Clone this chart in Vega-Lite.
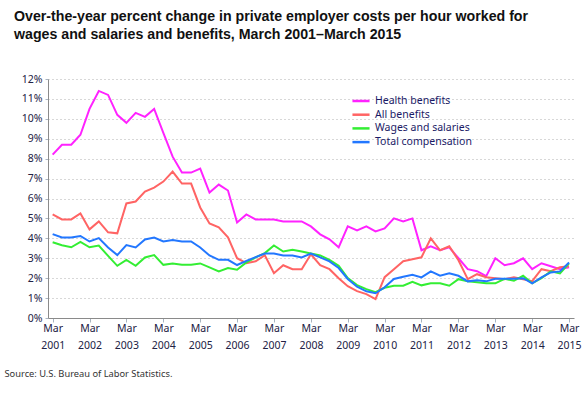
{
  "$schema": "https://vega.github.io/schema/vega-lite/v6.json",
  "width": 526,
  "height": 239,
  "autosize": {"type": "none"},
  "padding": {"left": 48, "top": 79, "right": 10, "bottom": 77},
  "background": "white",
  "title": {
    "text": ["Over-the-year percent change in private employer costs per hour worked for", "wages and salaries and benefits, March 2001\u2013March 2015"],
    "anchor": "start",
    "frame": "group",
    "dx": -34,
    "offset": 32,
    "font": "Liberation Sans",
    "fontSize": 14.2,
    "fontWeight": "bold",
    "color": "#111111",
    "lineHeight": 18
  },
  "data": {"values": [
    {"date":"2001-03-01","series":"Health benefits","value":8.2},
    {"date":"2001-06-01","series":"Health benefits","value":8.7},
    {"date":"2001-09-01","series":"Health benefits","value":8.7},
    {"date":"2001-12-01","series":"Health benefits","value":9.2},
    {"date":"2002-03-01","series":"Health benefits","value":10.5},
    {"date":"2002-06-01","series":"Health benefits","value":11.4},
    {"date":"2002-09-01","series":"Health benefits","value":11.2},
    {"date":"2002-12-01","series":"Health benefits","value":10.2},
    {"date":"2003-03-01","series":"Health benefits","value":9.8},
    {"date":"2003-06-01","series":"Health benefits","value":10.3},
    {"date":"2003-09-01","series":"Health benefits","value":10.1},
    {"date":"2003-12-01","series":"Health benefits","value":10.5},
    {"date":"2004-03-01","series":"Health benefits","value":9.3},
    {"date":"2004-06-01","series":"Health benefits","value":8.1},
    {"date":"2004-09-01","series":"Health benefits","value":7.3},
    {"date":"2004-12-01","series":"Health benefits","value":7.3},
    {"date":"2005-03-01","series":"Health benefits","value":7.5},
    {"date":"2005-06-01","series":"Health benefits","value":6.3},
    {"date":"2005-09-01","series":"Health benefits","value":6.7},
    {"date":"2005-12-01","series":"Health benefits","value":6.4},
    {"date":"2006-03-01","series":"Health benefits","value":4.8},
    {"date":"2006-06-01","series":"Health benefits","value":5.2},
    {"date":"2006-09-01","series":"Health benefits","value":4.95},
    {"date":"2006-12-01","series":"Health benefits","value":4.95},
    {"date":"2007-03-01","series":"Health benefits","value":4.95},
    {"date":"2007-06-01","series":"Health benefits","value":4.85},
    {"date":"2007-09-01","series":"Health benefits","value":4.85},
    {"date":"2007-12-01","series":"Health benefits","value":4.85},
    {"date":"2008-03-01","series":"Health benefits","value":4.6},
    {"date":"2008-06-01","series":"Health benefits","value":4.2},
    {"date":"2008-09-01","series":"Health benefits","value":3.95},
    {"date":"2008-12-01","series":"Health benefits","value":3.55},
    {"date":"2009-03-01","series":"Health benefits","value":4.6},
    {"date":"2009-06-01","series":"Health benefits","value":4.4},
    {"date":"2009-09-01","series":"Health benefits","value":4.6},
    {"date":"2009-12-01","series":"Health benefits","value":4.35},
    {"date":"2010-03-01","series":"Health benefits","value":4.5},
    {"date":"2010-06-01","series":"Health benefits","value":5.0},
    {"date":"2010-09-01","series":"Health benefits","value":4.85},
    {"date":"2010-12-01","series":"Health benefits","value":5.0},
    {"date":"2011-03-01","series":"Health benefits","value":3.4},
    {"date":"2011-06-01","series":"Health benefits","value":3.6},
    {"date":"2011-09-01","series":"Health benefits","value":3.4},
    {"date":"2011-12-01","series":"Health benefits","value":3.55},
    {"date":"2012-03-01","series":"Health benefits","value":3.0},
    {"date":"2012-06-01","series":"Health benefits","value":2.45},
    {"date":"2012-09-01","series":"Health benefits","value":2.35},
    {"date":"2012-12-01","series":"Health benefits","value":2.1},
    {"date":"2013-03-01","series":"Health benefits","value":3.0},
    {"date":"2013-06-01","series":"Health benefits","value":2.65},
    {"date":"2013-09-01","series":"Health benefits","value":2.75},
    {"date":"2013-12-01","series":"Health benefits","value":3.0},
    {"date":"2014-03-01","series":"Health benefits","value":2.45},
    {"date":"2014-06-01","series":"Health benefits","value":2.75},
    {"date":"2014-09-01","series":"Health benefits","value":2.6},
    {"date":"2014-12-01","series":"Health benefits","value":2.45},
    {"date":"2015-03-01","series":"Health benefits","value":2.55},
    {"date":"2001-03-01","series":"All benefits","value":5.2},
    {"date":"2001-06-01","series":"All benefits","value":4.95},
    {"date":"2001-09-01","series":"All benefits","value":4.95},
    {"date":"2001-12-01","series":"All benefits","value":5.25},
    {"date":"2002-03-01","series":"All benefits","value":4.45},
    {"date":"2002-06-01","series":"All benefits","value":4.85},
    {"date":"2002-09-01","series":"All benefits","value":4.3},
    {"date":"2002-12-01","series":"All benefits","value":4.25},
    {"date":"2003-03-01","series":"All benefits","value":5.75},
    {"date":"2003-06-01","series":"All benefits","value":5.85},
    {"date":"2003-09-01","series":"All benefits","value":6.35},
    {"date":"2003-12-01","series":"All benefits","value":6.55},
    {"date":"2004-03-01","series":"All benefits","value":6.85},
    {"date":"2004-06-01","series":"All benefits","value":7.35},
    {"date":"2004-09-01","series":"All benefits","value":6.75},
    {"date":"2004-12-01","series":"All benefits","value":6.75},
    {"date":"2005-03-01","series":"All benefits","value":5.55},
    {"date":"2005-06-01","series":"All benefits","value":4.75},
    {"date":"2005-09-01","series":"All benefits","value":4.55},
    {"date":"2005-12-01","series":"All benefits","value":4.05},
    {"date":"2006-03-01","series":"All benefits","value":3.0},
    {"date":"2006-06-01","series":"All benefits","value":2.75},
    {"date":"2006-09-01","series":"All benefits","value":2.85},
    {"date":"2006-12-01","series":"All benefits","value":3.15},
    {"date":"2007-03-01","series":"All benefits","value":2.25},
    {"date":"2007-06-01","series":"All benefits","value":2.65},
    {"date":"2007-09-01","series":"All benefits","value":2.45},
    {"date":"2007-12-01","series":"All benefits","value":2.45},
    {"date":"2008-03-01","series":"All benefits","value":3.2},
    {"date":"2008-06-01","series":"All benefits","value":2.65},
    {"date":"2008-09-01","series":"All benefits","value":2.45},
    {"date":"2008-12-01","series":"All benefits","value":2.0},
    {"date":"2009-03-01","series":"All benefits","value":1.6},
    {"date":"2009-06-01","series":"All benefits","value":1.35},
    {"date":"2009-09-01","series":"All benefits","value":1.2},
    {"date":"2009-12-01","series":"All benefits","value":0.95},
    {"date":"2010-03-01","series":"All benefits","value":2.05},
    {"date":"2010-06-01","series":"All benefits","value":2.45},
    {"date":"2010-09-01","series":"All benefits","value":2.85},
    {"date":"2010-12-01","series":"All benefits","value":2.95},
    {"date":"2011-03-01","series":"All benefits","value":3.05},
    {"date":"2011-06-01","series":"All benefits","value":4.0},
    {"date":"2011-09-01","series":"All benefits","value":3.4},
    {"date":"2011-12-01","series":"All benefits","value":3.6},
    {"date":"2012-03-01","series":"All benefits","value":2.9},
    {"date":"2012-06-01","series":"All benefits","value":1.95},
    {"date":"2012-09-01","series":"All benefits","value":2.2},
    {"date":"2012-12-01","series":"All benefits","value":2.05},
    {"date":"2013-03-01","series":"All benefits","value":2.0},
    {"date":"2013-06-01","series":"All benefits","value":1.95},
    {"date":"2013-09-01","series":"All benefits","value":2.05},
    {"date":"2013-12-01","series":"All benefits","value":1.95},
    {"date":"2014-03-01","series":"All benefits","value":1.85},
    {"date":"2014-06-01","series":"All benefits","value":2.45},
    {"date":"2014-09-01","series":"All benefits","value":2.35},
    {"date":"2014-12-01","series":"All benefits","value":2.55},
    {"date":"2015-03-01","series":"All benefits","value":2.6},
    {"date":"2001-03-01","series":"Wages and salaries","value":3.8},
    {"date":"2001-06-01","series":"Wages and salaries","value":3.65},
    {"date":"2001-09-01","series":"Wages and salaries","value":3.55},
    {"date":"2001-12-01","series":"Wages and salaries","value":3.82},
    {"date":"2002-03-01","series":"Wages and salaries","value":3.55},
    {"date":"2002-06-01","series":"Wages and salaries","value":3.64},
    {"date":"2002-09-01","series":"Wages and salaries","value":3.12},
    {"date":"2002-12-01","series":"Wages and salaries","value":2.62},
    {"date":"2003-03-01","series":"Wages and salaries","value":2.92},
    {"date":"2003-06-01","series":"Wages and salaries","value":2.62},
    {"date":"2003-09-01","series":"Wages and salaries","value":3.04},
    {"date":"2003-12-01","series":"Wages and salaries","value":3.16},
    {"date":"2004-03-01","series":"Wages and salaries","value":2.67},
    {"date":"2004-06-01","series":"Wages and salaries","value":2.74},
    {"date":"2004-09-01","series":"Wages and salaries","value":2.67},
    {"date":"2004-12-01","series":"Wages and salaries","value":2.67},
    {"date":"2005-03-01","series":"Wages and salaries","value":2.74},
    {"date":"2005-06-01","series":"Wages and salaries","value":2.54},
    {"date":"2005-09-01","series":"Wages and salaries","value":2.34},
    {"date":"2005-12-01","series":"Wages and salaries","value":2.51},
    {"date":"2006-03-01","series":"Wages and salaries","value":2.42},
    {"date":"2006-06-01","series":"Wages and salaries","value":2.79},
    {"date":"2006-09-01","series":"Wages and salaries","value":3.04},
    {"date":"2006-12-01","series":"Wages and salaries","value":3.26},
    {"date":"2007-03-01","series":"Wages and salaries","value":3.64},
    {"date":"2007-06-01","series":"Wages and salaries","value":3.34},
    {"date":"2007-09-01","series":"Wages and salaries","value":3.42},
    {"date":"2007-12-01","series":"Wages and salaries","value":3.34},
    {"date":"2008-03-01","series":"Wages and salaries","value":3.24},
    {"date":"2008-06-01","series":"Wages and salaries","value":3.14},
    {"date":"2008-09-01","series":"Wages and salaries","value":2.92},
    {"date":"2008-12-01","series":"Wages and salaries","value":2.62},
    {"date":"2009-03-01","series":"Wages and salaries","value":2.0},
    {"date":"2009-06-01","series":"Wages and salaries","value":1.65},
    {"date":"2009-09-01","series":"Wages and salaries","value":1.45},
    {"date":"2009-12-01","series":"Wages and salaries","value":1.3},
    {"date":"2010-03-01","series":"Wages and salaries","value":1.52},
    {"date":"2010-06-01","series":"Wages and salaries","value":1.62},
    {"date":"2010-09-01","series":"Wages and salaries","value":1.62},
    {"date":"2010-12-01","series":"Wages and salaries","value":1.82},
    {"date":"2011-03-01","series":"Wages and salaries","value":1.64},
    {"date":"2011-06-01","series":"Wages and salaries","value":1.74},
    {"date":"2011-09-01","series":"Wages and salaries","value":1.74},
    {"date":"2011-12-01","series":"Wages and salaries","value":1.62},
    {"date":"2012-03-01","series":"Wages and salaries","value":1.95},
    {"date":"2012-06-01","series":"Wages and salaries","value":1.84},
    {"date":"2012-09-01","series":"Wages and salaries","value":1.79},
    {"date":"2012-12-01","series":"Wages and salaries","value":1.74},
    {"date":"2013-03-01","series":"Wages and salaries","value":1.74},
    {"date":"2013-06-01","series":"Wages and salaries","value":1.97},
    {"date":"2013-09-01","series":"Wages and salaries","value":1.87},
    {"date":"2013-12-01","series":"Wages and salaries","value":2.12},
    {"date":"2014-03-01","series":"Wages and salaries","value":1.74},
    {"date":"2014-06-01","series":"Wages and salaries","value":2.0},
    {"date":"2014-09-01","series":"Wages and salaries","value":2.34},
    {"date":"2014-12-01","series":"Wages and salaries","value":2.24},
    {"date":"2015-03-01","series":"Wages and salaries","value":2.74},
    {"date":"2001-03-01","series":"Total compensation","value":4.21},
    {"date":"2001-06-01","series":"Total compensation","value":4.04},
    {"date":"2001-09-01","series":"Total compensation","value":4.04},
    {"date":"2001-12-01","series":"Total compensation","value":4.12},
    {"date":"2002-03-01","series":"Total compensation","value":3.84},
    {"date":"2002-06-01","series":"Total compensation","value":4.01},
    {"date":"2002-09-01","series":"Total compensation","value":3.54},
    {"date":"2002-12-01","series":"Total compensation","value":3.16},
    {"date":"2003-03-01","series":"Total compensation","value":3.66},
    {"date":"2003-06-01","series":"Total compensation","value":3.54},
    {"date":"2003-09-01","series":"Total compensation","value":3.94},
    {"date":"2003-12-01","series":"Total compensation","value":4.04},
    {"date":"2004-03-01","series":"Total compensation","value":3.84},
    {"date":"2004-06-01","series":"Total compensation","value":3.92},
    {"date":"2004-09-01","series":"Total compensation","value":3.84},
    {"date":"2004-12-01","series":"Total compensation","value":3.84},
    {"date":"2005-03-01","series":"Total compensation","value":3.54},
    {"date":"2005-06-01","series":"Total compensation","value":3.14},
    {"date":"2005-09-01","series":"Total compensation","value":2.92},
    {"date":"2005-12-01","series":"Total compensation","value":2.92},
    {"date":"2006-03-01","series":"Total compensation","value":2.66},
    {"date":"2006-06-01","series":"Total compensation","value":2.87},
    {"date":"2006-09-01","series":"Total compensation","value":3.06},
    {"date":"2006-12-01","series":"Total compensation","value":3.24},
    {"date":"2007-03-01","series":"Total compensation","value":3.24},
    {"date":"2007-06-01","series":"Total compensation","value":3.14},
    {"date":"2007-09-01","series":"Total compensation","value":3.14},
    {"date":"2007-12-01","series":"Total compensation","value":3.04},
    {"date":"2008-03-01","series":"Total compensation","value":3.24},
    {"date":"2008-06-01","series":"Total compensation","value":3.04},
    {"date":"2008-09-01","series":"Total compensation","value":2.84},
    {"date":"2008-12-01","series":"Total compensation","value":2.51},
    {"date":"2009-03-01","series":"Total compensation","value":1.96},
    {"date":"2009-06-01","series":"Total compensation","value":1.57},
    {"date":"2009-09-01","series":"Total compensation","value":1.34},
    {"date":"2009-12-01","series":"Total compensation","value":1.24},
    {"date":"2010-03-01","series":"Total compensation","value":1.54},
    {"date":"2010-06-01","series":"Total compensation","value":1.96},
    {"date":"2010-09-01","series":"Total compensation","value":2.07},
    {"date":"2010-12-01","series":"Total compensation","value":2.17},
    {"date":"2011-03-01","series":"Total compensation","value":2.04},
    {"date":"2011-06-01","series":"Total compensation","value":2.34},
    {"date":"2011-09-01","series":"Total compensation","value":2.12},
    {"date":"2011-12-01","series":"Total compensation","value":2.24},
    {"date":"2012-03-01","series":"Total compensation","value":2.12},
    {"date":"2012-06-01","series":"Total compensation","value":1.84},
    {"date":"2012-09-01","series":"Total compensation","value":1.9},
    {"date":"2012-12-01","series":"Total compensation","value":1.84},
    {"date":"2013-03-01","series":"Total compensation","value":1.97},
    {"date":"2013-06-01","series":"Total compensation","value":1.97},
    {"date":"2013-09-01","series":"Total compensation","value":1.97},
    {"date":"2013-12-01","series":"Total compensation","value":2.0},
    {"date":"2014-03-01","series":"Total compensation","value":1.74},
    {"date":"2014-06-01","series":"Total compensation","value":2.04},
    {"date":"2014-09-01","series":"Total compensation","value":2.29},
    {"date":"2014-12-01","series":"Total compensation","value":2.34},
    {"date":"2015-03-01","series":"Total compensation","value":2.79}
  ]},
  "mark": {"type": "line", "strokeWidth": 2, "interpolate": "linear"},
  "encoding": {
    "x": {
      "field": "date",
      "type": "temporal",
      "scale": {"type": "utc", "domain": [{"year": 2001, "month": 1, "date": 14, "utc": true}, {"year": 2015, "month": 4, "date": 19, "utc": true}]},
      "axis": {
        "values": [
          {"year": 2001, "month": 3, "date": 1, "utc": true},
          {"year": 2002, "month": 3, "date": 1, "utc": true},
          {"year": 2003, "month": 3, "date": 1, "utc": true},
          {"year": 2004, "month": 3, "date": 1, "utc": true},
          {"year": 2005, "month": 3, "date": 1, "utc": true},
          {"year": 2006, "month": 3, "date": 1, "utc": true},
          {"year": 2007, "month": 3, "date": 1, "utc": true},
          {"year": 2008, "month": 3, "date": 1, "utc": true},
          {"year": 2009, "month": 3, "date": 1, "utc": true},
          {"year": 2010, "month": 3, "date": 1, "utc": true},
          {"year": 2011, "month": 3, "date": 1, "utc": true},
          {"year": 2012, "month": 3, "date": 1, "utc": true},
          {"year": 2013, "month": 3, "date": 1, "utc": true},
          {"year": 2014, "month": 3, "date": 1, "utc": true},
          {"year": 2015, "month": 3, "date": 1, "utc": true}
        ],
        "labelExpr": "['Mar', utcFormat(datum.value, '%Y')]",
        "labelLineHeight": 17,
        "labelFont": "Noto Sans",
        "labelFontSize": 10.5,
        "labelColor": "#222244",
        "labelPadding": 1,
        "labelOverlap": false,
        "labelFlush": false,
        "tickSize": 4,
        "tickColor": "#a8b4c0",
        "domainColor": "#8a8a8a",
        "grid": false,
        "title": "Source: U.S. Bureau of Labor Statistics.",
        "titleFont": "Noto Sans",
        "titleFontSize": 9.3,
        "titleFontWeight": "normal",
        "titleColor": "#333333",
        "titleAnchor": "start",
        "titleAlign": "left",
        "titleBaseline": "middle",
        "titleX": -44,
        "titleY": 55
      }
    },
    "y": {
      "field": "value",
      "type": "quantitative",
      "scale": {"domain": [0, 12], "nice": false},
      "axis": {
        "values": [0,1,2,3,4,5,6,7,8,9,10,11,12],
        "labelExpr": "datum.value + '%'",
        "labelFont": "Noto Sans",
        "labelFontSize": 10.5,
        "labelColor": "#222244",
        "labelPadding": 3,
        "tickSize": 3,
        "tickColor": "#a8b4c0",
        "domainColor": "#8a8a8a",
        "grid": true,
        "gridColor": "#b0b0b0",
        "gridDash": [1, 3],
        "title": null
      }
    },
    "color": {
      "field": "series",
      "type": "nominal",
      "scale": {
        "domain": ["Health benefits", "All benefits", "Wages and salaries", "Total compensation"],
        "range": ["#ff22ff", "#ff6464", "#33ee33", "#2277ff"]
      },
      "legend": {
        "title": null,
        "orient": "none",
        "legendX": 306,
        "legendY": 15,
        "symbolType": "M-1.5,0H1.5",
        "symbolSize": 130,
        "symbolStrokeWidth": 2.5,
        "labelFont": "Noto Sans",
        "labelFontSize": 10.5,
        "labelColor": "#1a1a66",
        "labelOffset": 7,
        "rowPadding": 0.7
      }
    }
  },
  "config": {
    "view": {"stroke": null}
  }
}
